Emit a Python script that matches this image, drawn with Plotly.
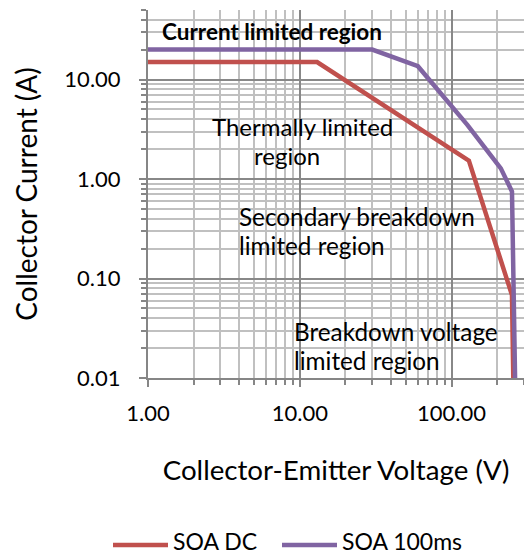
import math
import plotly.graph_objects as go

# ---- data ----
dc_voltage = [1, 13, 130, 250, 255]
dc_current = [15, 15, 1.53, 0.068, 0.01]

ms_voltage = [1, 30, 60, 127, 211, 250, 262]
ms_current = [20, 20, 13.6, 3.5, 1.28, 0.75, 0.01]

series_names = ["SOA DC", "SOA 100ms"]
series_colors = ["#C0504D", "#8064A2"]

x_ticks = [1, 10, 100]
x_ticktext = ["1.00", "10.00", "100.00"]
y_ticks = [0.01, 0.1, 1, 10]
y_ticktext = ["0.01", "0.10", "1.00", "10.00"]

x_title = "Collector-Emitter Voltage (V)"
y_title = "Collector Current (A)"

region_lines = [
    "<b>Current limited region</b>",
    "Thermally limited",
    "region",
    "Secondary breakdown",
    "limited region",
    "Breakdown voltage",
    "limited region",
]

W, H = 524, 555
L, R, T, B = 148, 0, 10, 177
PW, PH = W - L - R, H - T - B
FONT = "Lato"


def px(x):
    return (x - L) / PW


def py(y):
    return (H - B - y) / PH


x_minor = [m * 10 ** k for k in range(0, 3) for m in range(2, 10)]
y_minor = [m * 10 ** k for k in range(-2, 2) for m in range(2, 10)]

fig = go.Figure()
fig.add_trace(go.Scatter(x=dc_voltage, y=dc_current, mode="lines", name=series_names[0],
                         line=dict(color=series_colors[0], width=4.5), showlegend=False))
fig.add_trace(go.Scatter(x=ms_voltage, y=ms_current, mode="lines", name=series_names[1],
                         line=dict(color=series_colors[1], width=4.5), showlegend=False))

axis_common = dict(
    type="log",
    tickmode="array",
    showgrid=True, gridcolor="#888888", gridwidth=1.8,
    showline=True, linecolor="#868686", linewidth=2,
    ticks="outside", ticklen=7, tickcolor="#868686", tickwidth=1.5,
    tickfont=dict(family=FONT, size=22, color="#000000"),
    zeroline=False,
)

minor_common = dict(tickmode="array", showgrid=True, gridcolor="#c0c0c0", gridwidth=1.5,
                    ticks="outside", ticklen=5, tickcolor="#868686")

fig.update_xaxes(
    **axis_common,
    range=[0, math.log10(300)],
    tickvals=x_ticks, ticktext=x_ticktext,
    ticklabelstandoff=8,
    minor=dict(tickvals=x_minor, **minor_common),
    title=dict(text=x_title, font=dict(family=FONT, size=27.7, color="#000000"), standoff=35),
)
fig.update_yaxes(
    **axis_common,
    range=[-2, math.log10(50)],
    tickvals=y_ticks, ticktext=y_ticktext,
    ticklabelstandoff=14,
    minor=dict(tickvals=y_minor, **minor_common),
    title=dict(text=y_title, font=dict(family=FONT, size=28, color="#000000"), standoff=19),
)

# region labels (one annotation per text line)
line_pos = [
    (161, 31.7, 22.5),
    (211, 126.7, 24),
    (253, 155, 24),
    (237.5, 216.7, 24.3),
    (237.5, 245, 24.3),
    (292.5, 331.7, 24.3),
    (292.5, 360.7, 24.3),
]
for text, (ax, ay, fs) in zip(region_lines, line_pos):
    fig.add_annotation(x=px(ax), y=py(ay), xref="paper", yref="paper", text=text,
                       showarrow=False, xanchor="left", yanchor="middle", align="left",
                       font=dict(family=FONT, size=fs, color="#000000"), borderpad=0)

# legend drawn with long line samples as in the reference
legend_items = [(113, 168, 171.5), (282, 337, 341)]
for name, color, (x0, x1, xt) in zip(series_names, series_colors, legend_items):
    fig.add_shape(type="line", xref="paper", yref="paper",
                  x0=px(x0), x1=px(x1), y0=py(545), y1=py(545),
                  line=dict(color=color, width=4.5))
    fig.add_annotation(x=px(xt), y=py(540.5), xref="paper", yref="paper", text=name,
                       showarrow=False, xanchor="left", yanchor="middle",
                       font=dict(family=FONT, size=23, color="#000000"), borderpad=0)

fig.update_layout(
    width=W, height=H,
    margin=dict(l=L, r=R, t=T, b=B),
    paper_bgcolor="white", plot_bgcolor="white",
    showlegend=False,
)

fig.write_html("out.html")
